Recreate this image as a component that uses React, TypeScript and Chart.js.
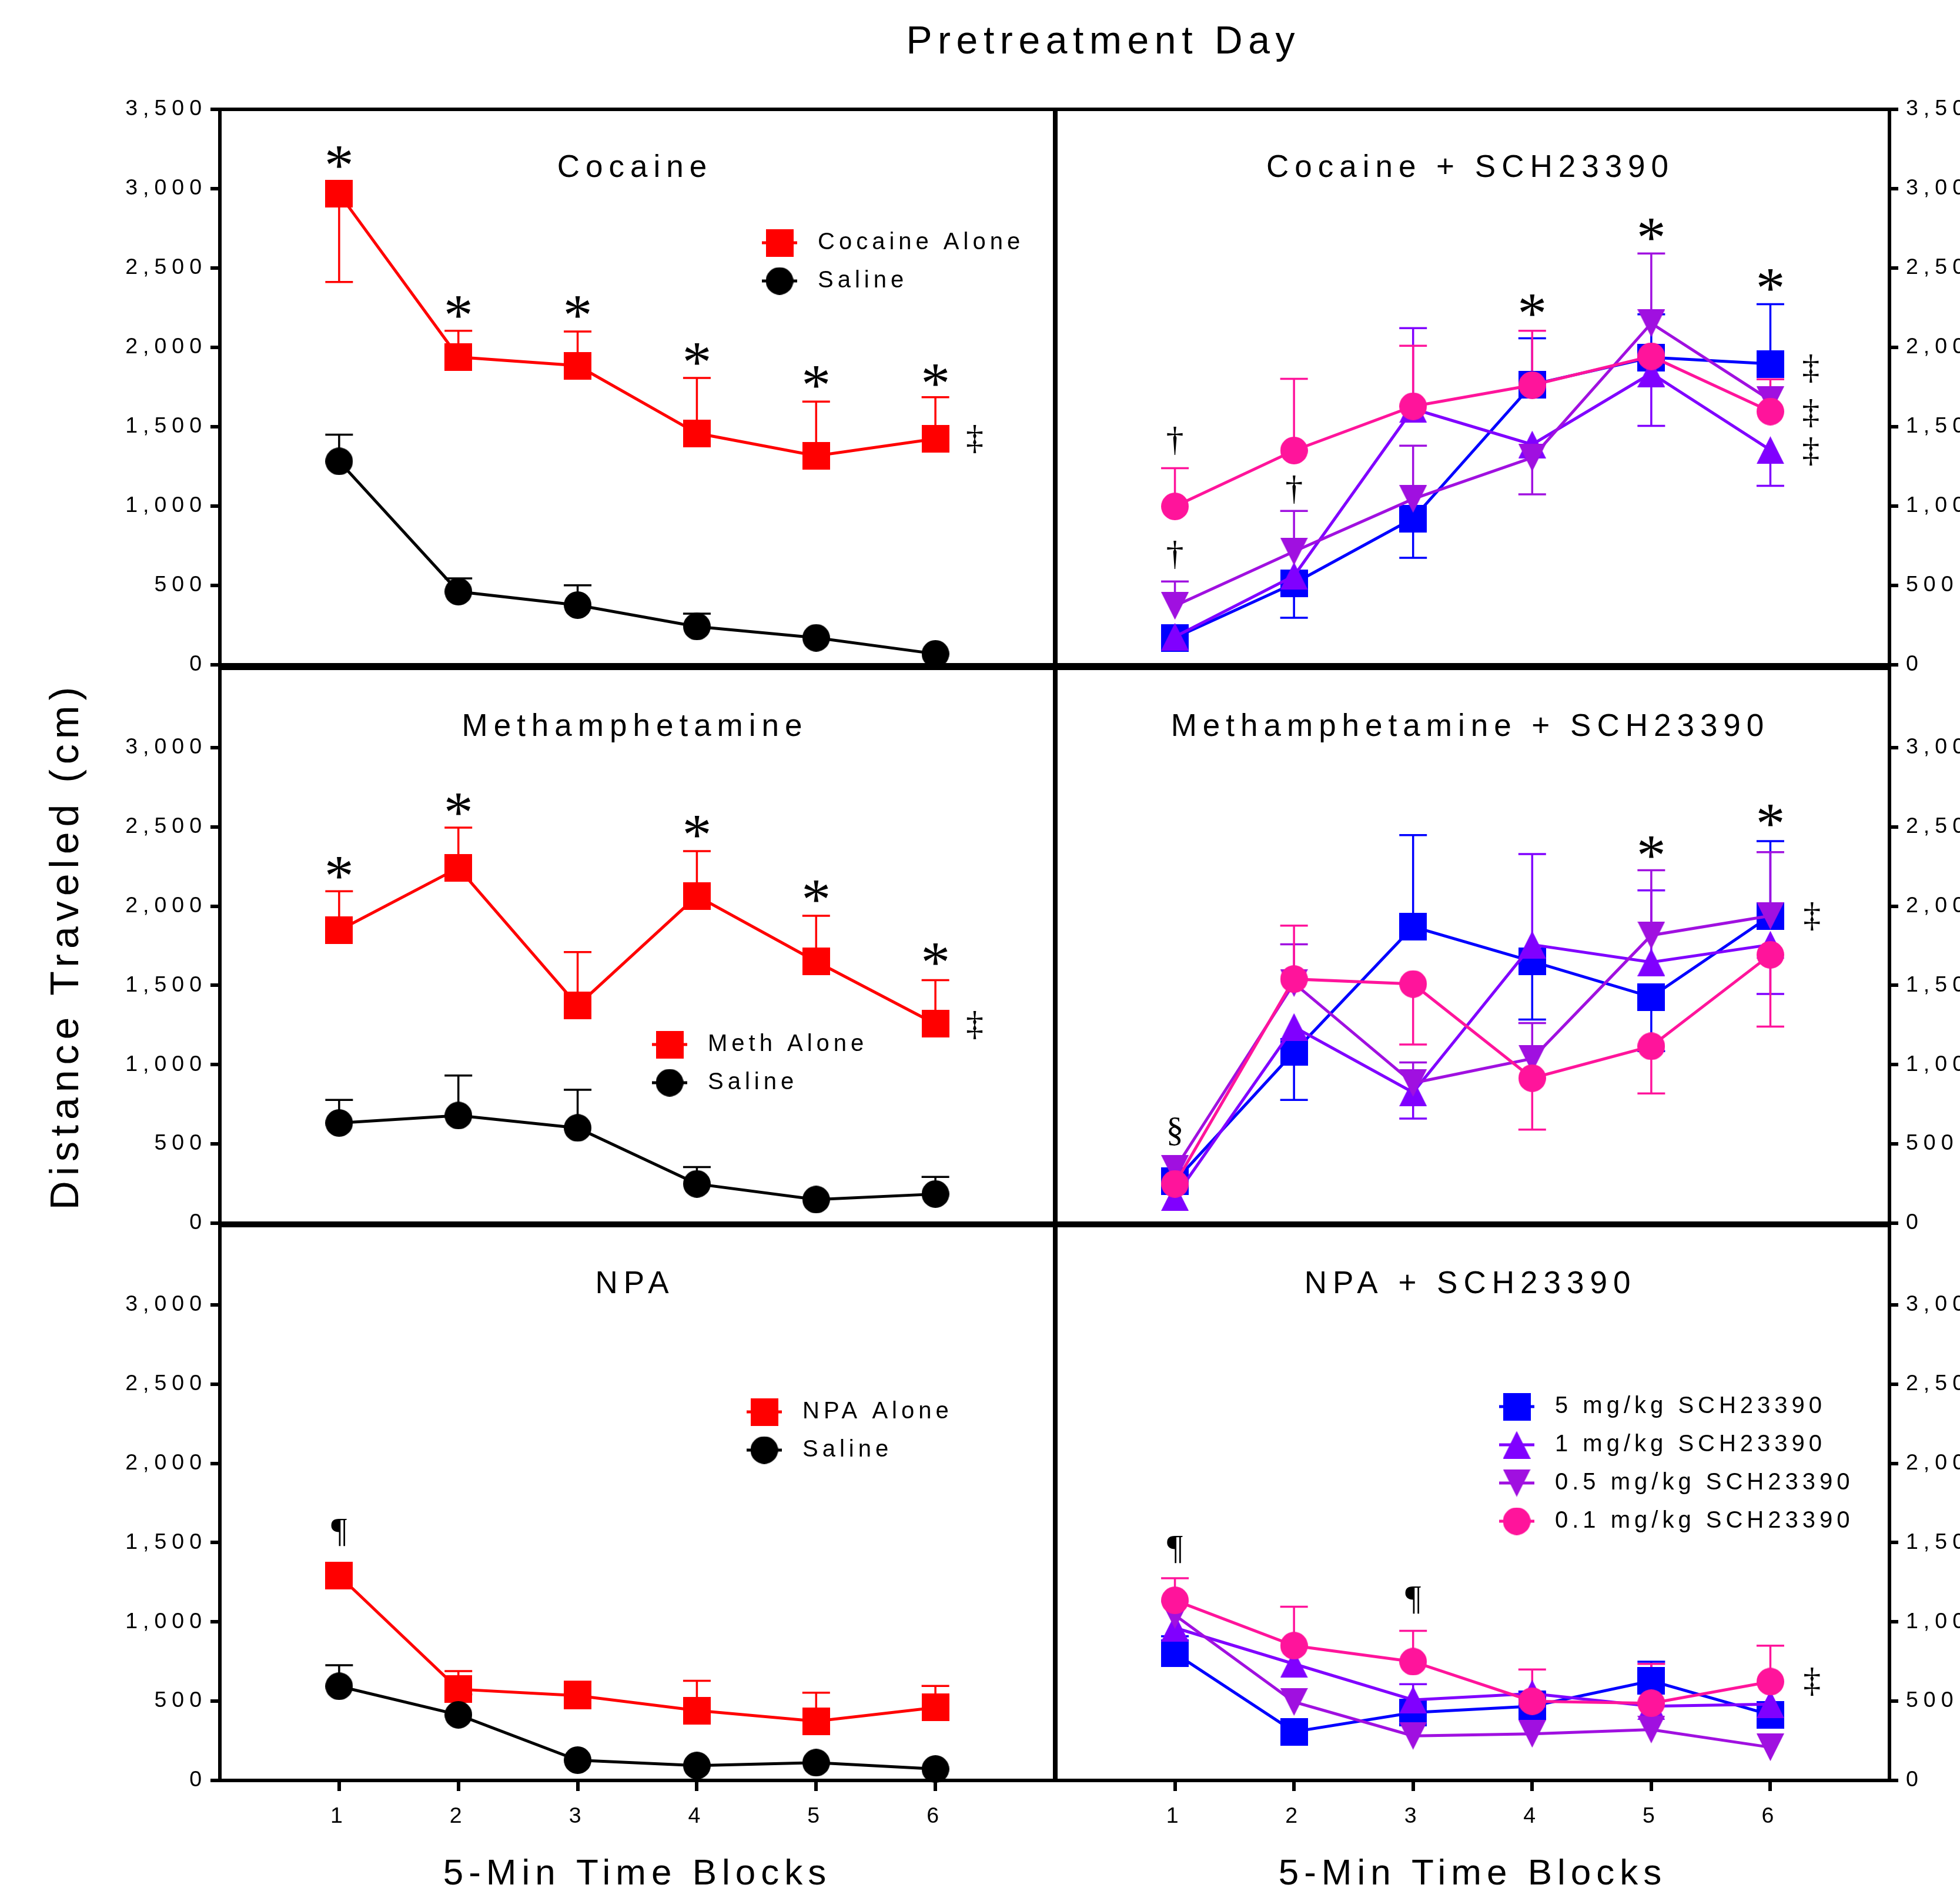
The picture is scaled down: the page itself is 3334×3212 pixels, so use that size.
import React, { useEffect, useRef } from 'react';
import { Chart, registerables } from 'chart.js';
Chart.register(...registerables);

// ---------------- data ----------------
const BLOCKS = [1, 2, 3, 4, 5, 6];
const Y_TICKS_TOP = [0, 500, 1000, 1500, 2000, 2500, 3000, 3500];
const Y_TICKS_LOWER = [0, 500, 1000, 1500, 2000, 2500, 3000];

// Cocaine
const cocaineAlone = [2968, 1939, 1885, 1459, 1317, 1424];
const cocaineAloneErr = [2412, 2105, 2100, 1807, 1658, 1686];
const cocaineSaline = [1282, 461, 376, 241, 170, 69];
const cocaineSalineErr = [1450, 544, 501, 322, null, null];

// Cocaine + SCH23390
const cocSch5 = [170, 513, 922, 1766, 1937, 1896];
const cocSch5Err = [null, 296, 674, 2057, 2208, 2272];
const cocSch1 = [177, 560, 1613, 1388, 1837, 1353];
const cocSch1Err = [null, null, 2121, null, 1506, 1128];
const cocSch05 = [371, 714, 1045, 1305, 2152, 1667];
const cocSch05Err = [525, 969, 1381, 1074, 2592, null];
const cocSch01 = [998, 1350, 1629, 1762, 1944, 1596];
const cocSch01Err = [1239, 1802, 2010, 2105, null, 1799];

// Methamphetamine
const methAlone = [1847, 2241, 1373, 2064, 1651, 1257];
const methAloneErr = [2094, 2495, 1710, 2347, 1939, 1533];
const methSaline = [632, 679, 601, 248, 149, 184];
const methSalineErr = [778, 932, 842, 354, null, 292];

// Methamphetamine + SCH23390
const methSch5 = [264, 1080, 1870, 1651, 1427, 1939];
const methSch5Err = [null, 778, 2448, 1285, 1085, 2410];
const methSch1 = [165, 1238, 825, 1757, 1646, 1757];
const methSch1Err = [null, null, 660, 2328, 2099, 1446];
const methSch05 = [342, 1514, 884, 1038, 1816, 1939];
const methSch05Err = [null, 1759, 1014, 1262, 2226, 2340];
const methSch01 = [248, 1540, 1509, 915, 1116, 1693];
const methSch01Err = [null, 1877, 1127, 590, 818, 1240];

// NPA
const npaAlone = [1291, 575, 535, 441, 374, 460];
const npaAloneErr = [null, 690, 623, 628, 553, 596];
const npaSaline = [594, 414, 128, 94, 112, 72];
const npaSalineErr = [727, 543, null, null, null, null];

// NPA + SCH23390
const npaSch5 = [802, 307, 428, 468, 628, 414];
const npaSch5Err = [909, null, null, 561, 749, null];
const npaSch1 = [963, 735, 508, 548, 468, 481];
const npaSch1Err = [null, null, 607, null, null, null];
const npaSch05 = [1043, 495, 281, 294, 321, 209];
const npaSch05Err = [null, null, null, null, null, null];
const npaSch01 = [1136, 850, 749, 500, 487, 623];
const npaSch01Err = [1275, 1096, 944, 700, 735, 850];

// significance marks: [block, value, symbol]
const cocaineMarks: [number, number, string][] = [
  [1, 3197, '*'], [2, 2255, '*'], [3, 2255, '*'], [4, 1956, '*'], [5, 1814, '*'], [6, 1825, '*'], [6.33, 1424, '‡'],
];
const cocSchMarks: [number, number, string][] = [
  [1, 1412, '†'], [1, 691, '†'], [2, 1104, '†'], [4, 2263, '*'], [5, 2741, '*'], [6, 2424, '*'],
  [6.34, 1868, '‡'], [6.34, 1584, '‡'], [6.34, 1345, '‡'],
];
const methMarks: [number, number, string][] = [
  [1, 2241, '*'], [2, 2642, '*'], [4, 2500, '*'], [5, 2094, '*'], [6, 1698, '*'], [6.33, 1250, '‡'],
];
const methSchMarks: [number, number, string][] = [
  [1, 578, '§'], [5, 2370, '*'], [6, 2571, '*'], [6.35, 1934, '‡'],
];
const npaMarks: [number, number, string][] = [[1, 1562, '¶']];
const npaSchMarks: [number, number, string][] = [[1, 1457, '¶'], [3, 1136, '¶'], [6.35, 623, '‡']];

// ---------------- styles ----------------
const RED = '#FF0000';
const BLACK = '#000000';
const BLUE = '#0000FF';
const VIOLET = '#8000FF';
const PURPLE = '#A010E0';
const PINK = '#FF149B';
const SANS = "'Liberation Sans', Arial, sans-serif";
const SERIF = "'Liberation Serif', 'Times New Roman', serif";

type Marker = 'square' | 'circle' | 'up' | 'down';
type Series = { label: string; values: number[]; err: (number | null)[]; color: string; marker: Marker };
type Panel = {
  title: string; col: number; row: number; series: Series[];
  marks: [number, number, string][]; legend: { dx: number; dy: number } | null;
};

const schSeries = (v5: number[], e5: (number | null)[], v1: number[], e1: (number | null)[], v05: number[], e05: (number | null)[], v01: number[], e01: (number | null)[]): Series[] => [
  { label: '5 mg/kg SCH23390', values: v5, err: e5, color: BLUE, marker: 'square' },
  { label: '1 mg/kg SCH23390', values: v1, err: e1, color: VIOLET, marker: 'up' },
  { label: '0.5 mg/kg SCH23390', values: v05, err: e05, color: PURPLE, marker: 'down' },
  { label: '0.1 mg/kg SCH23390', values: v01, err: e01, color: PINK, marker: 'circle' },
];

const PANELS: Panel[] = [
  {
    title: 'Cocaine', col: 0, row: 0, marks: cocaineMarks, legend: { dx: 952, dy: 227 },
    series: [
      { label: 'Cocaine Alone', values: cocaineAlone, err: cocaineAloneErr, color: RED, marker: 'square' },
      { label: 'Saline', values: cocaineSaline, err: cocaineSalineErr, color: BLACK, marker: 'circle' },
    ],
  },
  {
    title: 'Cocaine + SCH23390', col: 1, row: 0, marks: cocSchMarks, legend: null,
    series: schSeries(cocSch5, cocSch5Err, cocSch1, cocSch1Err, cocSch05, cocSch05Err, cocSch01, cocSch01Err),
  },
  {
    title: 'Methamphetamine', col: 0, row: 1, marks: methMarks, legend: { dx: 765, dy: 640 },
    series: [
      { label: 'Meth Alone', values: methAlone, err: methAloneErr, color: RED, marker: 'square' },
      { label: 'Saline', values: methSaline, err: methSalineErr, color: BLACK, marker: 'circle' },
    ],
  },
  {
    title: 'Methamphetamine + SCH23390', col: 1, row: 1, marks: methSchMarks, legend: null,
    series: schSeries(methSch5, methSch5Err, methSch1, methSch1Err, methSch05, methSch05Err, methSch01, methSch01Err),
  },
  {
    title: 'NPA', col: 0, row: 2, marks: npaMarks, legend: { dx: 926, dy: 317 },
    series: [
      { label: 'NPA Alone', values: npaAlone, err: npaAloneErr, color: RED, marker: 'square' },
      { label: 'Saline', values: npaSaline, err: npaSalineErr, color: BLACK, marker: 'circle' },
    ],
  },
  {
    title: 'NPA + SCH23390', col: 1, row: 2, marks: npaSchMarks, legend: { dx: 784, dy: 308 },
    series: schSeries(npaSch5, npaSch5Err, npaSch1, npaSch1Err, npaSch05, npaSch05Err, npaSch01, npaSch01Err),
  },
];

// ---------------- layout ----------------
const PLOT_X = [[374, 1794], [1796, 3214]];
const PLOT_Y = [[186, 1131], [1137, 2081], [2085, 3029]];
const CANVAS_X = [[0, 1840], [1750, 3334]];
const CANVAS_Y = [[0, 1185], [1080, 2135], [2030, 3212]];

function geom(p: Panel) {
  const cx0 = CANVAS_X[p.col][0];
  const cx1 = p.col === 0 && p.row === 0 ? 2300 : CANVAS_X[p.col][1];
  const cy0 = CANVAS_Y[p.row][0];
  const cy1 = CANVAS_Y[p.row][1];
  return { cx0, cy0, cw: cx1 - cx0, ch: cy1 - cy0, px0: PLOT_X[p.col][0], px1: PLOT_X[p.col][1], py0: PLOT_Y[p.row][0], py1: PLOT_Y[p.row][1] };
}

function makeMarker(shape: Marker, color: string, size = 47) {
  const c = document.createElement('canvas');
  c.width = size; c.height = size;
  const g = c.getContext('2d')!;
  g.fillStyle = color;
  g.beginPath();
  if (shape === 'square') g.rect(0, 0, size, size);
  else if (shape === 'circle') g.arc(size / 2, size / 2, size / 2, 0, Math.PI * 2);
  else if (shape === 'up') { g.moveTo(size / 2, 0); g.lineTo(size, size); g.lineTo(0, size); g.closePath(); }
  else { g.moveTo(0, 0); g.lineTo(size, 0); g.lineTo(size / 2, size); g.closePath(); }
  g.fill();
  return c;
}

function spacedText(ctx: any, text: string, x: number, y: number, font: string, ls: number, align: string, baseline = 'alphabetic') {
  ctx.save();
  ctx.font = font;
  ctx.letterSpacing = '0px';
  const w = ctx.measureText(text).width + ls * (text.length - 1);
  const sx = align === 'left' ? x : align === 'center' ? x - w / 2 : x - w;
  ctx.letterSpacing = ls + 'px';
  ctx.textAlign = 'left';
  ctx.textBaseline = baseline;
  ctx.fillStyle = '#000';
  ctx.fillText(text, sx, y);
  ctx.restore();
}

function symbolAt(ctx: any, sym: string, x: number, y: number) {
  const size = sym === '*' ? 100 : 60;
  ctx.save();
  ctx.font = `${size}px ${SERIF}`;
  ctx.letterSpacing = '0px';
  ctx.textAlign = 'left';
  ctx.textBaseline = 'alphabetic';
  ctx.fillStyle = '#000';
  const m = ctx.measureText(sym);
  const x0 = x - (m.actualBoundingBoxRight - m.actualBoundingBoxLeft) / 2;
  const y0 = y + (m.actualBoundingBoxAscent - m.actualBoundingBoxDescent) / 2;
  ctx.fillText(sym, x0, y0);
  ctx.restore();
}

function buildChart(canvas: HTMLCanvasElement, p: Panel) {
  const g = geom(p);
  const isRight = p.col === 1;
  const isBottom = p.row === 2;
  const markers = p.series.map((s) => makeMarker(s.marker, s.color));
  const yAxisWidth = isRight ? g.cx0 + g.cw - g.px1 : g.px0 - g.cx0;
  const xAxisHeight = isBottom ? g.cy0 + g.ch - g.py1 : 0;
  const yTicks = p.row === 0 ? Y_TICKS_TOP : Y_TICKS_LOWER;

  const decor = {
    id: 'decor',
    beforeDraw(chart: any) {
      chart.ctx.letterSpacing = '9px';
    },
    beforeDatasetsDraw(chart: any) {
      const ctx = chart.ctx;
      const xs = chart.scales.x;
      const ys = chart.scales.y;
      ctx.save();
      ctx.letterSpacing = '0px';
      ctx.lineCap = 'butt';
      p.series.forEach((s) => {
        ctx.strokeStyle = s.color;
        ctx.lineWidth = 3.5;
        s.err.forEach((e, j) => {
          if (e == null) return;
          const x = xs.getPixelForValue(BLOCKS[j]);
          const y0 = ys.getPixelForValue(s.values[j]);
          const y1 = ys.getPixelForValue(e);
          ctx.beginPath();
          ctx.moveTo(x, y0); ctx.lineTo(x, y1);
          ctx.moveTo(x - 23.5, y1); ctx.lineTo(x + 23.5, y1);
          ctx.stroke();
        });
      });
      const a = chart.chartArea;
      ctx.strokeStyle = '#000';
      ctx.lineWidth = 6;
      ctx.strokeRect(a.left, a.top, a.right - a.left, a.bottom - a.top);
      ctx.restore();
    },
    afterDatasetsDraw(chart: any) {
      const ctx = chart.ctx;
      const a = chart.chartArea;
      const xs = chart.scales.x;
      const ys = chart.scales.y;
      // panel title
      spacedText(ctx, p.title, (a.left + a.right) / 2 - 9, a.top + 115, `53px ${SANS}`, 10, 'center');
      // legend
      if (p.legend) {
        p.series.forEach((s, i) => {
          const mx = a.left + p.legend!.dx;
          const my = a.top + p.legend!.dy + i * 65;
          ctx.save();
          ctx.strokeStyle = s.color;
          ctx.lineWidth = 5;
          ctx.beginPath();
          ctx.moveTo(mx - 30, my); ctx.lineTo(mx + 30, my);
          ctx.stroke();
          const img = markers[i];
          ctx.drawImage(img, mx - img.width / 2, my - img.height / 2);
          ctx.restore();
          spacedText(ctx, s.label, mx + 65, my, `40px ${SANS}`, 7, 'left', 'middle');
        });
      }
      // significance marks
      p.marks.forEach(([bx, v, sym]) => {
        symbolAt(ctx, sym, xs.getPixelForValue(bx), ys.getPixelForValue(v));
      });
      // main title
      if (p.row === 0 && p.col === 0) {
        spacedText(ctx, 'Pretreatment Day', 1872 - g.cx0, 91 - g.cy0, `66px ${SANS}`, 9.6, 'center');
      }
    },
  };

  return new Chart(canvas, {
    type: 'line',
    data: {
      datasets: p.series.map((s, i) => ({
        label: s.label,
        data: BLOCKS.map((b, j) => ({ x: b, y: s.values[j] })),
        borderColor: s.color,
        backgroundColor: s.color,
        borderWidth: 5,
        pointStyle: markers[i],
        pointRadius: 23,
        pointHoverRadius: 23,
        pointBorderWidth: 0,
        tension: 0,
        fill: false,
        clip: false,
        order: p.series.length - i,
      })),
    },
    options: {
      responsive: false,
      animation: false,
      devicePixelRatio: 1,
      events: [],
      layout: {
        autoPadding: false,
        padding: {
          left: isRight ? g.px0 - g.cx0 : 0,
          right: isRight ? 0 : g.cx0 + g.cw - g.px1,
          top: g.py0 - g.cy0,
          bottom: isBottom ? 0 : g.cy0 + g.ch - g.py1,
        },
      },
      plugins: { legend: { display: false }, tooltip: { enabled: false }, title: { display: false } },
      scales: {
        x: {
          type: 'linear',
          min: 0,
          max: 7,
          display: isBottom,
          afterBuildTicks: (scale: any) => { scale.ticks = BLOCKS.map((v) => ({ value: v })); },
          afterFit: (scale: any) => { scale.height = xAxisHeight; },
          border: { display: false },
          grid: { display: true, drawOnChartArea: false, drawTicks: true, tickLength: 18, tickWidth: 6, lineWidth: 6, tickColor: '#000', color: '#000' },
          ticks: { font: { family: SANS, size: 37.5 }, color: '#000', padding: 21.5, maxRotation: 0, autoSkip: false },
          title: {
            display: isBottom,
            text: '5-Min Time Blocks',
            color: '#000',
            font: { family: SANS, size: 62, lineHeight: 0.75 },
            padding: { top: 0, bottom: 0 },
          },
        },
        y: {
          type: 'linear',
          position: isRight ? 'right' : 'left',
          min: 0,
          max: 3500,
          afterBuildTicks: (scale: any) => { scale.ticks = yTicks.map((v) => ({ value: v })); },
          afterFit: (scale: any) => { scale.width = yAxisWidth; },
          border: { display: false },
          grid: { display: true, drawOnChartArea: false, drawTicks: true, tickLength: isRight ? 15 : 16, tickWidth: 6, lineWidth: 6, tickColor: '#000', color: '#000' },
          ticks: {
            font: { family: SANS, size: 37.5 },
            color: '#000',
            padding: isRight ? 13 : 6,
            autoSkip: false,
            callback: (v: any) => Number(v).toLocaleString('en-US'),
          },
          title: {
            display: p.row === 1 && p.col === 0,
            text: 'Distance Traveled (cm)',
            color: '#000',
            font: { family: SANS, size: 68 },
            padding: { top: 73, bottom: 0 },
          },
        },
      },
    },
    plugins: [decor],
  } as any);
}

export default function App() {
  const refs = useRef<(HTMLCanvasElement | null)[]>([]);
  useEffect(() => {
    document.body.style.margin = '0';
    const charts = PANELS.map((p, i) => buildChart(refs.current[i]!, p));
    return () => charts.forEach((c) => c.destroy());
  }, []);
  return (
    <div style={{ position: 'absolute', left: 0, top: 0, width: 3334, height: 3212, background: '#fff', overflow: 'hidden' }}>
      {PANELS.map((p, i) => {
        const g = geom(p);
        return (
          <canvas
            key={i}
            ref={(el) => { refs.current[i] = el; }}
            width={g.cw}
            height={g.ch}
            style={{ position: 'absolute', left: g.cx0, top: g.cy0, width: g.cw, height: g.ch }}
          />
        );
      })}
    </div>
  );
}
